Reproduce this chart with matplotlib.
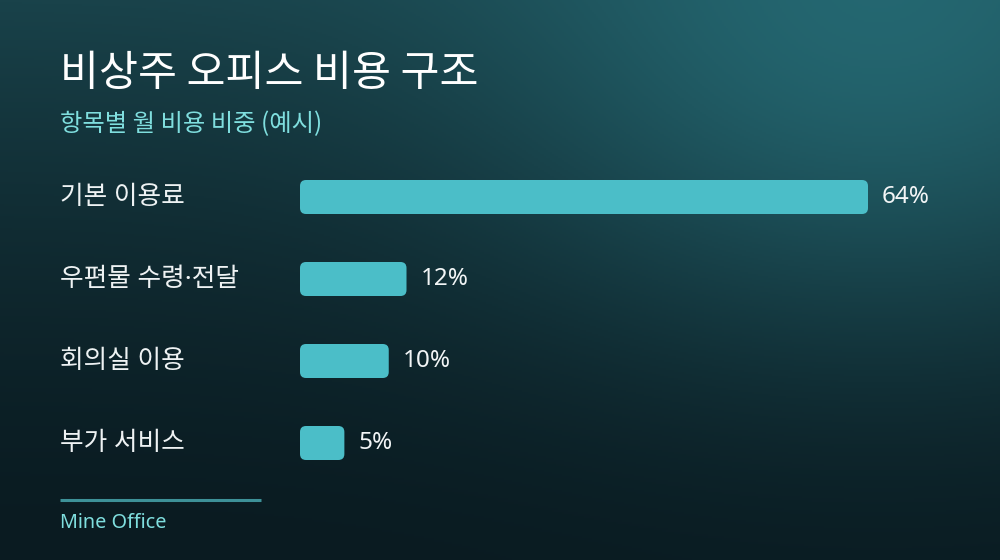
import numpy as np
import matplotlib
matplotlib.use("Agg")
import matplotlib.pyplot as plt
import matplotlib.transforms as mtransforms
from matplotlib.patches import FancyBboxPatch

plt.rcParams['font.family'] = ['Noto Sans CJK KR', 'DejaVu Sans']
latin_first = ['Noto Sans', 'Noto Sans CJK KR', 'DejaVu Sans']

# chart data
categories = ['기본 이용료', '우편물 수령·전달', '회의실 이용', '부가 서비스']
shares = [64, 12, 10, 5]
value_labels = ['64%', '12%', '10%', '5%']

title = '비상주 오피스 비용 구조'
subtitle = '항목별 월 비용 비중 (예시)'
footer = 'Mine Office'

W, H = 1000, 560
fig = plt.figure(figsize=(W / 100, H / 100), dpi=100)

# background: vertical gradient plus a soft glow in the top-right corner
bg = fig.add_axes([0, 0, 1, 1])
yy, xx = np.mgrid[0:1:280j, 0:1:500j]   # yy = 1 at the top
bottom_c = np.array([0x0a, 0x1b, 0x21]) / 255
top_c = np.array([0x19, 0x42, 0x4a]) / 255
glow_c = np.array([0x26, 0x6d, 0x77]) / 255
base = bottom_c + (top_c - bottom_c) * (yy ** 1.6)[..., None]
glow = np.exp(-(((xx - 0.88) / 0.38) ** 2 + ((yy - 1.0) / 0.55) ** 2))
img = base + (glow_c - base) * (0.85 * glow)[..., None]
bg.imshow(np.clip(img, 0, 1), origin='lower', extent=[0, 1, 0, 1], aspect='auto')
bg.set_axis_off()

# bar axes: x 0..70 maps from px 300, rows 82 px apart starting at px 197
px_per_unit = 568 / 64
x0, xmax = 300, 70
row_h = 82
top = 197 - row_h / 2
ax = fig.add_axes([x0 / W, 1 - (top + 4 * row_h) / H,
                   xmax * px_per_unit / W, 4 * row_h / H])
ax.set_xlim(0, xmax)
ax.set_ylim(3.5, -0.5)
ax.set_axis_off()

bar_h = 34 / row_h
r_px = 6
for i, v in enumerate(shares):
    p = FancyBboxPatch((0, i - bar_h / 2), v, bar_h,
                       boxstyle=f'round,pad=0,rounding_size={r_px / px_per_unit}',
                       mutation_aspect=px_per_unit / row_h,
                       fc='#4bbec8', ec='none')
    ax.add_patch(p)
    ax.annotate(value_labels[i], (v, i), xytext=(10, 0), textcoords='offset points',
                ha='left', va='center', color='#f2f5f6', fontsize=17.5,
                family=latin_first)

trans = mtransforms.blended_transform_factory(fig.transFigure, ax.transData)
for i, c in enumerate(categories):
    fig.text(60 / W, i, c, transform=trans, ha='left', va='center',
             color='#eef2f3', fontsize=18.5, family=latin_first)

fig.text(60 / W, 1 - 86 / H, title, ha='left', va='baseline',
         color='white', fontsize=30.5)
fig.text(60 / W, 1 - 131 / H, subtitle, ha='left', va='baseline',
         color='#7fdede', fontsize=17.5)

fig.add_artist(plt.Line2D([60 / W, 261 / W], [1 - 500 / H, 1 - 500 / H],
                          color='#3d9198', lw=2.2, solid_capstyle='butt'))
fig.text(60 / W, 1 - 528 / H, footer, ha='left', va='baseline',
         color='#7fdede', fontsize=14.3, family=latin_first)

fig.savefig('out.png', dpi=100)
